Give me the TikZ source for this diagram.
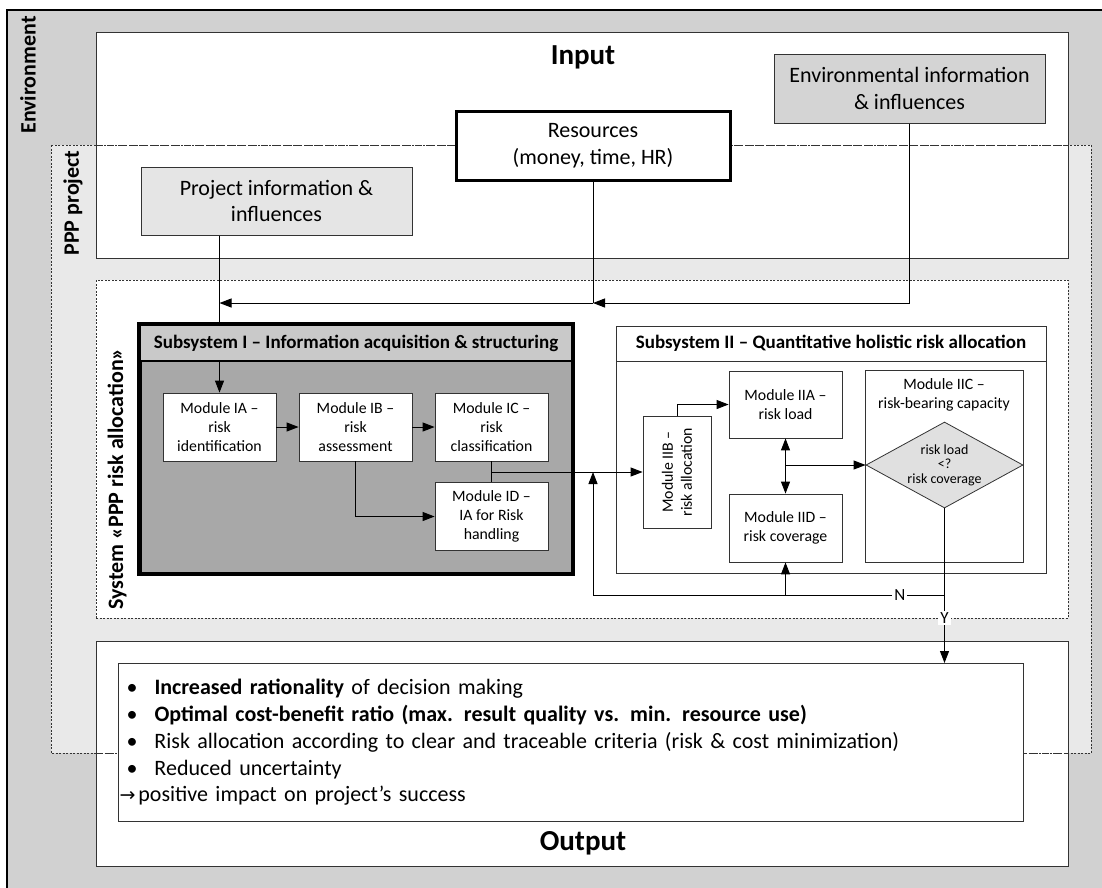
\documentclass[tikz,border=0pt]{standalone}
\usepackage{fontspec}
\setmainfont{Carlito}
\newfontfamily\dejavu{DejaVu Sans}
\usetikzlibrary{arrows.meta,shapes.geometric,calc}
\definecolor{envgray}{gray}{0.82}
\definecolor{pppgray}{gray}{0.915}
\definecolor{infogray}{gray}{0.83}
\definecolor{projgray}{gray}{0.9}
\definecolor{subbody}{gray}{0.66}
\definecolor{subtitlegray}{gray}{0.79}
\definecolor{diagray}{gray}{0.88}
\definecolor{edge}{gray}{0.2}
\newcommand{\fs}[2]{\fontsize{#1}{#2}\selectfont}
\newcommand{\obul}{\makebox[36pt][l]{\hspace{8pt}•}}
\begin{document}
\begin{tikzpicture}[x=1pt,y=-1pt,
  conn/.style={line width=1pt, draw=black},
  arr/.style={conn, -{Triangle[length=12pt,width=9pt]}},
  darr/.style={conn, {Triangle[length=12pt,width=9pt]}-{Triangle[length=12pt,width=9pt]}},
  region/.style={draw=edge, line width=1.2pt, fill=white, inner sep=0pt},
  module/.style={draw=edge, line width=0.8pt, fill=white, minimum width=113pt, minimum height=68pt, align=center, inner sep=0pt, font=\fs{15.8}{19}},
  infobox/.style={draw=edge, line width=1pt, align=center, inner sep=0pt, font=\fs{22}{26.5}},
  vlabel/.style={rotate=90, font=\bfseries\fs{22}{26}},
  bigtitle/.style={font=\bfseries\fs{29}{33}},
  subtitle/.style={font=\bfseries\fs{19}{22}},
  yn/.style={font=\fs{17}{20}, inner sep=2pt},
  dotborder/.style={draw=edge, dash pattern=on 2pt off 1.5pt, line width=0.8pt}
]
\useasboundingbox (0,0) rectangle (1102,887);
\clip (0,0) rectangle (1102,887);
% environment
\draw[fill=envgray, line width=1.2pt] (7,10) rectangle (1120,910);
\fill[pppgray] (51,145) rectangle (1091,753);
% big regions
\node (inputbox) [region, minimum width=972pt, minimum height=226pt, anchor=north west] at (96,32) {};
\node (outputbox) [region, minimum width=972pt, minimum height=225pt, anchor=north west] at (96,641) {};
\node (system) [fill=white, dotborder, minimum width=972pt, minimum height=338pt, anchor=north west, inner sep=0pt] at (96,280) {};
\draw[dotborder] (51,145) rectangle (1091,753);
\draw[edge, line width=1pt, dash pattern=on 7pt off 4pt] (96,145) -- (1068,145);
\draw[edge, line width=1pt, dash pattern=on 7pt off 4pt] (96,753) -- (1068,753);
% labels
\node (envlabel) [vlabel] at (28,75) {Environment};
\node (ppplabel) [vlabel] at (73,203) {PPP project};
\node (syslabel) [vlabel] at (117,479) {System «PPP risk allocation»};
\node (inputlbl) [bigtitle] at (583,57) {Input};
\node (outputlbl) [bigtitle] at (583,843) {Output};
% input boxes
\node (envinfo) [infobox, fill=infogray, minimum width=271pt, minimum height=69pt] at (909.5,88.5) {Environmental information\\\& influences};
\node (resources) [infobox, draw=black, line width=3pt, fill=white, minimum width=274pt, minimum height=69pt] at (593,145.5) {Resources\\(money, time, HR)};
\node (projinfo) [infobox, fill=projgray, minimum width=271pt, minimum height=68pt] at (276.5,201) {Project information \&\\influences};
% subsystem I
\node (sub1) [draw=black, line width=3pt, fill=subbody, minimum width=432pt, minimum height=248pt, inner sep=0pt] at (356,449) {};
\node (sub1t) [draw=black, line width=2pt, fill=subtitlegray, minimum width=432pt, minimum height=36pt, inner sep=0pt, subtitle] at (356,343) {Subsystem I – Information acquisition \& structuring};
\draw[line width=3pt] (sub1.north west) rectangle (sub1.south east);
\node (IA) [module] at (219.5,427) {Module IA –\\risk\\identification};
\node (IB) [module] at (355.5,427) {Module IB –\\risk\\assessment};
\node (IC) [module] at (491.5,427) {Module IC –\\risk\\classification};
\node (ID) [module] at (491.5,516.5) {Module ID –\\IA for Risk\\handling};
% subsystem II
\node (sub2) [draw=edge, line width=1pt, fill=white, minimum width=430pt, minimum height=247pt, inner sep=0pt] at (831,449.5) {};
\node (sub2t) [draw=edge, line width=1pt, minimum width=430pt, minimum height=35pt, inner sep=0pt, subtitle] at (831,343.5) {Subsystem II – Quantitative holistic risk allocation};
\node (IIA) [module, minimum height=67pt] at (785.5,404.5) {Module IIA –\\risk load};
\node (IID) [module] at (785.5,528) {Module IID –\\risk coverage};
\node (IIB) [module, minimum width=68pt, minimum height=112pt, label={[rotate=90, align=center, font=\fs{15.8}{19}]center:Module IIB –\\risk allocation}] at (677,472) {};
\node (IIC) [module, minimum width=158pt, minimum height=192pt, label={[anchor=north, yshift=-5pt, align=center, font=\fs{15.8}{19}]north:Module IIC –\\risk-bearing capacity}] at (944,466) {};
\node (dia) [diamond, draw=edge, line width=0.8pt, fill=diagray, shape aspect=1.83, minimum width=157pt, minimum height=86pt, inner sep=0pt, align=center, font=\fs{14}{14.5}] at (944.5,465) {risk load\\<?\\risk coverage};
% output box
\node (outin) [draw=edge, line width=1pt, fill=white, minimum width=905pt, minimum height=158pt, text width=905pt, align=left, inner sep=0pt, anchor=north west, font=\fs{22}{26.8}] at (118,663) {\obul\textbf{Increased rationality} of decision making\\
\obul\textbf{Optimal cost-benefit ratio (max. result quality vs. min. resource use)}\\
\obul Risk allocation according to clear and traceable criteria (risk \& cost minimization)\\
\obul Reduced uncertainty\\
\hspace{1pt}{\dejavu\fs{19}{20}→}\hspace{3pt}positive impact on project’s success};
% connectors
\coordinate (j1) at (593,303);
\coordinate (fbL) at (593,595);
\coordinate (fbR) at (944.5,595);
\draw[conn] (resources.south) -- (j1);
\draw[arr] (envinfo.south) |- (j1);
\draw[arr] (j1) -- (IA.north |- j1);
\draw[conn] (IA.north |- projinfo.south) -- (IA.north |- sub1.north);
\draw[arr] (IA.north |- sub1t.south) -- (IA.north);
\draw[arr] (IA) -- (IB);
\draw[arr] (IB) -- (IC);
\draw[arr] (IB.south) |- (ID.west);
\draw[conn] (IC.south) -- (ID.north);
\draw[arr] (IC.south |- IIB.west) -- (IIB.west);
\draw[arr] (IIB.north) |- (IIA.west);
\draw[darr] (IIA.south) -- (IID.north);
\draw[arr] (IIA.south |- dia.west) -- (dia.west);
\draw[conn] (dia.south) -- (fbR);
\draw[conn] (fbR) -- node[yn, fill=white, pos=0.127]{N} (fbL);
\draw[arr] (fbL) -- (fbL |- IIB.west);
\draw[arr] (IID.south |- fbL) -- (IID.south);
\draw[arr] (fbR) -- node[yn, fill=white, pos=0.338]{Y} (fbR |- outin.north);
\end{tikzpicture}
\end{document}
